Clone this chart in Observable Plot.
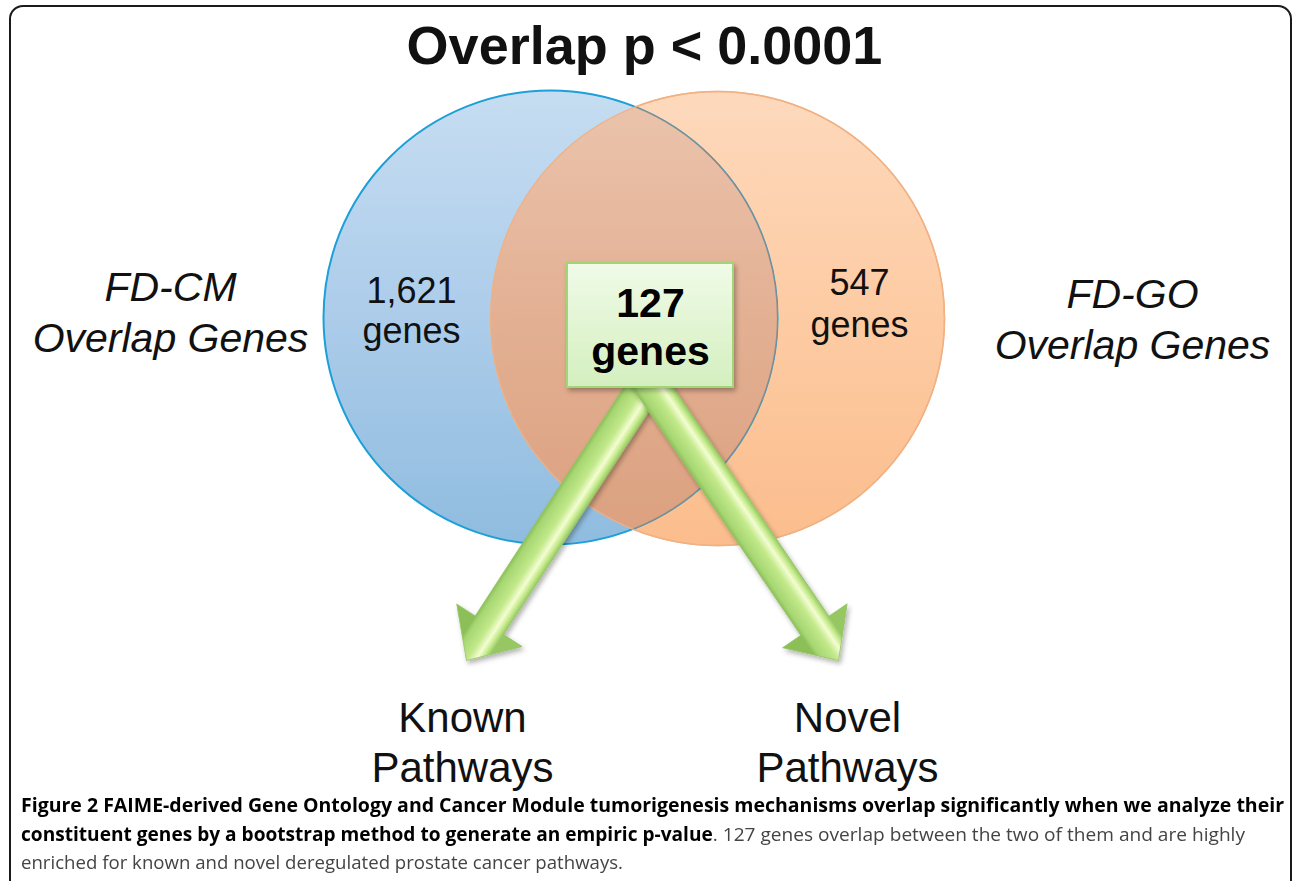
<!DOCTYPE html>
<html>
<head>
<meta charset="utf-8">
<script src="https://cdn.jsdelivr.net/npm/d3@7"></script>
<script src="https://cdn.jsdelivr.net/npm/@observablehq/plot@0.6"></script>
<style>
  html, body { margin: 0; padding: 0; background: #fff; width: 1292px; height: 881px; overflow: hidden; }
  #frame { position: absolute; left: 9px; top: 5px; width: 1283px; height: 1000px; box-sizing: border-box;
           border: 2px solid #1a1a1a; border-radius: 14px; pointer-events: none; }
  #chart { position: absolute; left: 0; top: 0; }
  #caption { position: absolute; left: 21px; top: 791px; font-family: "Open Sans", sans-serif; font-size: 19px; color: #444; }
  #caption .line { white-space: nowrap; height: 28.5px; line-height: 28.5px; }
  #caption .line span.fit { display: inline-block; transform-origin: 0 50%; }
  #caption b { color: #000; font-weight: 700; }
</style>
</head>
<body>
<div id="chart"></div>
<div id="frame"></div>
<div id="caption">
  <div class="line"><span class="fit" data-w="1263"><b>Figure 2 FAIME-derived Gene Ontology and Cancer Module tumorigenesis mechanisms overlap significantly when we analyze their</b></span></div>
  <div class="line"><span class="fit" data-w="1224"><b>constituent genes by a bootstrap method to generate an empiric p-value</b>. 127 genes overlap between the two of them and are highly</span></div>
  <div class="line"><span class="fit" data-w="602">enriched for known and novel deregulated prostate cancer pathways.</span></div>
</div>
<script>
// ---------------- data ----------------
const setNames = ["FD-CM", "FD-GO"];
const setSuffix = "Overlap Genes";
const setOnlyCounts = [1621, 547];
const overlapCount = 127;
const unitLabel = "genes";
const pValueLabel = "Overlap p < 0.0001";
const pathwayKinds = ["Known", "Novel"];
const pathwaySuffix = "Pathways";

// ---------------- layout (drawing space, px) ----------------
const W = 1292, H = 795;
const FONT = '"Liberation Sans", Arial, Helvetica, sans-serif';
const circleLayout = [{cx: 550, cy: 317, r: 227}, {cx: 717, cy: 318, r: 227}];
const setLabelLayout = [{x: 170, y1: 300, y2: 351}, {x: 1132, y1: 307, y2: 358}];
const countLayout = [{x: 411, y1: 302, y2: 342}, {x: 859, y1: 294, y2: 336}];
const boxLayout = {x1: 567, x2: 733, y1: 263, y2: 387, tx: 650, t1: 316, t2: 364};
const titleLayout = {x: 644, y: 63};
const arrowLayout = [
  {x1: 643, y1: 388, x2: 466, y2: 660, tail: 22, shaftWidth: 34, headWidth: 78, headLength: 42},
  {x1: 653, y1: 388, x2: 838, y2: 660, tail: 22, shaftWidth: 34, headWidth: 78, headLength: 42}
];
const pathwayLayout = [{x: 462, y1: 731, y2: 781}, {x: 847, y1: 731, y2: 781}];

function arrowPolygon(a) {
  const dx = a.x2 - a.x1, dy = a.y2 - a.y1, len = Math.hypot(dx, dy);
  const ux = dx / len, uy = dy / len;
  let nx = -uy, ny = ux;
  if (nx < 0) { nx = -nx; ny = -ny; }
  const sx = a.x1 - ux * a.tail, sy = a.y1 - uy * a.tail;
  const bx = a.x2 - ux * a.headLength, by = a.y2 - uy * a.headLength;
  const hw = a.shaftWidth / 2, hh = a.headWidth / 2;
  return [
    [sx - nx * hw, sy - ny * hw],
    [bx - nx * hw, by - ny * hw],
    [bx - nx * hh, by - ny * hh],
    [a.x2, a.y2],
    [bx + nx * hh, by + ny * hh],
    [bx + nx * hw, by + ny * hw],
    [sx + nx * hw, sy + ny * hw]
  ].map(([x, y]) => ({x, y}));
}
function arrowNormal(a) {
  const dx = a.x2 - a.x1, dy = a.y2 - a.y1, len = Math.hypot(dx, dy);
  let nx = -dy / len, ny = dx / len;
  if (nx < 0) { nx = -nx; ny = -ny; }
  return [nx, ny];
}

const [blue, orange] = circleLayout;
const fmt = d3.format(",");

const setLabelText = setNames.flatMap((name, i) => [
  {text: name, x: setLabelLayout[i].x, y: setLabelLayout[i].y1},
  {text: setSuffix, x: setLabelLayout[i].x, y: setLabelLayout[i].y2}
]);
const countText = setOnlyCounts.flatMap((c, i) => [
  {text: fmt(c), x: countLayout[i].x, y: countLayout[i].y1},
  {text: unitLabel, x: countLayout[i].x, y: countLayout[i].y2}
]);
const overlapText = [
  {text: String(overlapCount), x: boxLayout.tx, y: boxLayout.t1},
  {text: unitLabel, x: boxLayout.tx, y: boxLayout.t2}
];
const pathwayText = pathwayKinds.flatMap((k, i) => [
  {text: k, x: pathwayLayout[i].x, y: pathwayLayout[i].y1},
  {text: pathwaySuffix, x: pathwayLayout[i].x, y: pathwayLayout[i].y2}
]);

const textOpts = (extra) => ({x: "x", y: "y", text: "text", textAnchor: "middle", lineAnchor: "bottom",
  fontFamily: FONT, fill: "#111", ...extra});

const plot = Plot.plot({
  width: W, height: H, margin: 0,
  style: {background: "transparent", overflow: "visible", fontFamily: FONT},
  x: {domain: [0, W], range: [0, W], axis: null},
  y: {domain: [0, H], range: [0, H], axis: null},
  marks: [
    Plot.dot([orange], {x: "cx", y: "cy", r: orange.r, fill: "url(#gOrange)", stroke: "#f2b487", strokeWidth: 1.5}),
    Plot.dot([blue], {x: "cx", y: "cy", r: blue.r, fill: "url(#gBlue)", stroke: "#1d9fd8", strokeWidth: 2}),
    Plot.dot([blue], {x: "cx", y: "cy", r: blue.r, fill: "url(#gLens)", stroke: "#8c8884", strokeOpacity: 0.85, strokeWidth: 1.3}),
    Plot.dot([orange], {x: "cx", y: "cy", r: orange.r, fill: "none", stroke: "#efb083", strokeWidth: 1.4, strokeOpacity: 0.9}),
    Plot.line(arrowPolygon(arrowLayout[0]), {x: "x", y: "y", curve: "linear-closed", fill: "url(#gArrow0)", stroke: "#93c460", strokeWidth: 0.8}),
    Plot.line(arrowPolygon(arrowLayout[1]), {x: "x", y: "y", curve: "linear-closed", fill: "url(#gArrow1)", stroke: "#93c460", strokeWidth: 0.8}),
    Plot.rect([boxLayout], {x1: "x1", x2: "x2", y1: "y1", y2: "y2", fill: "url(#gBox)", stroke: "#a2d478", strokeWidth: 2}),
    Plot.text([{text: pValueLabel, ...titleLayout}], textOpts({fontSize: 54, fontWeight: "bold"})),
    Plot.text(setLabelText, textOpts({fontSize: 41, fontStyle: "italic"})),
    Plot.text(countText, textOpts({fontSize: 36})),
    Plot.text(overlapText, textOpts({fontSize: 41, fontWeight: "bold", fill: "#000"})),
    Plot.text(pathwayText, textOpts({fontSize: 42}))
  ]
});

document.getElementById("chart").appendChild(plot);

// ---- gradients, clip and shadow ----
const sx = plot.scale("x").apply, sy = plot.scale("y").apply;
const svg = d3.select(plot);
const defs = svg.insert("defs", ":first-child");
function linGrad(id, stops, attrs = {x1: 0, y1: 0, x2: 0, y2: 1}) {
  const g = defs.append("linearGradient").attr("id", id);
  for (const k in attrs) g.attr(k, attrs[k]);
  for (const [o, c] of stops) g.append("stop").attr("offset", o).attr("stop-color", c);
}
linGrad("gBlue", [[0, "#c6ddf1"], [0.5, "#acccea"], [1, "#8fbcdf"]]);
linGrad("gOrange", [[0, "#fdd9bc"], [0.5, "#fdcba3"], [1, "#fbbd8d"]]);
linGrad("gLens", [[0, "#ebc4ad"], [0.5, "#e3b093"], [1, "#dba07f"]]);
linGrad("gBox", [[0, "#f0fbe8"], [1, "#d4efbf"]]);
arrowLayout.forEach((a, i) => {
  const [nx, ny] = arrowNormal(a);
  const hw = a.shaftWidth / 2;
  linGrad("gArrow" + i, [[0, "#8cbf59"], [0.12, "#a6d672"], [0.5, "#c2e98a"], [0.72, "#f4fdd2"], [0.86, "#c6ec8e"], [1, "#96c763"]], {
    gradientUnits: "userSpaceOnUse",
    x1: sx(a.x1 - nx * hw), y1: sy(a.y1 - ny * hw),
    x2: sx(a.x1 + nx * hw), y2: sy(a.y1 + ny * hw)
  });
});
defs.append("clipPath").attr("id", "clipOrange")
  .append("circle").attr("cx", sx(orange.cx)).attr("cy", sy(orange.cy)).attr("r", orange.r);
const f = defs.append("filter").attr("id", "shadow").attr("x", "-20%").attr("y", "-20%").attr("width", "140%").attr("height", "140%");
f.append("feDropShadow").attr("dx", 2).attr("dy", 3).attr("stdDeviation", 2.5).attr("flood-color", "#000").attr("flood-opacity", 0.3);

let dots = plot.querySelectorAll('g[aria-label="dot"]');
let lines = plot.querySelectorAll('g[aria-label="line"]');
let rects = plot.querySelectorAll('g[aria-label="rect"]');
if (dots.length < 3) {
  const gs = Array.from(plot.children).filter(e => e.tagName === "g");
  dots = gs.slice(0, 4); lines = gs.slice(4, 6); rects = gs.slice(6, 7);
}
dots[2].setAttribute("clip-path", "url(#clipOrange)");
lines.forEach(g => g.setAttribute("filter", "url(#shadow)"));
rects.forEach(g => g.setAttribute("filter", "url(#shadow)"));

// ---- fit caption lines ----
function fitCaption() {
  document.querySelectorAll("#caption span.fit").forEach(s => {
    s.style.transform = "none";
    const w = s.getBoundingClientRect().width;
    const target = +s.dataset.w;
    s.style.transform = `scaleX(${target / w})`;
  });
}
fitCaption();
if (document.fonts && document.fonts.ready) document.fonts.ready.then(fitCaption);
</script>
</body>
</html>
